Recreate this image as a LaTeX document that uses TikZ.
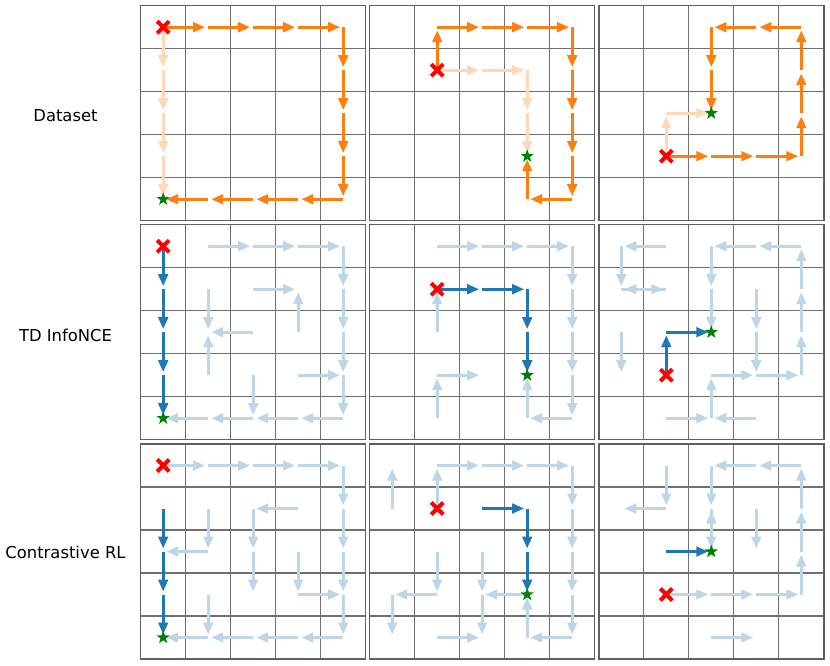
\documentclass[tikz,border=0pt]{standalone}
\usepackage{fontspec}
\setmainfont{DejaVu Sans}
\usetikzlibrary{arrows.meta,shapes.geometric,shapes.misc}
\definecolor{dorange}{HTML}{FF7F0E}
\definecolor{lorange}{HTML}{FFD9B7}
\definecolor{dblue}{HTML}{1F77B4}
\definecolor{lblue}{HTML}{BCD6E8}
\definecolor{xred}{HTML}{FF0000}
\definecolor{sgreen}{HTML}{008000}
\definecolor{gridgray}{HTML}{707070}
\definecolor{bordergray}{HTML}{606060}
\newcommand\arrs[3]{\foreach \f/\t in {#3} {\draw[#1] (p#2-\f) -- (p#2-\t);}}
\newcommand\pmarkers[3]{%
  \node[startmark] (x#1) at (p#1-#2) {};
  \node[goalmark] (g#1) at (p#1-#3) {};}
\begin{document}
\begin{tikzpicture}[x=1pt,y=-1pt,
  arrbase/.style={line width=3.2pt, shorten >=3pt, -{Triangle[length=12pt,width=9.5pt]}},
  dor/.style={arrbase, dorange},
  lor/.style={arrbase, lorange},
  dbl/.style={arrbase, dblue},
  lbl/.style={arrbase, lblue},
  startmark/.style={cross out, draw=xred, line width=4pt, minimum size=8pt, inner sep=0pt},
  goalmark/.style={star, star points=5, star point ratio=2.5, fill=sgreen, minimum size=14pt, inner sep=0pt},
  lab/.style={font=\fontsize{16.4}{19}\selectfont, inner sep=0pt},
  gridline/.style={gridgray, line width=1.1pt},
  frame/.style={bordergray, line width=1.5pt}]
\useasboundingbox (0,0) rectangle (830,665);
\fill[white] (0,0) rectangle (830,665);

% panels
\foreach \pr/\py in {1/5.7, 2/224.7, 3/444.0} {
  \foreach \pc/\px in {1/140.7, 2/369.7, 3/598.8} {
    \foreach \i in {1,...,4} {
      \draw[gridline] (\px+45*\i, \py) -- (\px+45*\i, \py+215);
      \draw[gridline] (\px, \py+43*\i) -- (\px+225, \py+43*\i);
    }
    \draw[frame] (\px,\py) rectangle (\px+225,\py+215);
    \foreach \c in {0,...,4} {
      \foreach \r in {0,...,4} {
        \coordinate (p\pr\pc-\c\r) at (\px+22.5+45*\c, \py+21.5+43*\r);
      }
    }
  }
}

% row labels
\node[lab] (l1) at (65.5,116) {Dataset};
\node[lab] (l2) at (65.5,335) {TD InfoNCE};
\node[lab] (l3) at (65.5,552) {Contrastive RL};

% ---- Dataset ----
\arrs{lor}{11}{00/01,01/02,02/03,03/04}
\arrs{dor}{11}{00/10,10/20,20/30,30/40,40/41,41/42,42/43,43/44,44/34,34/24,24/14,14/04}
\pmarkers{11}{00}{04}

\arrs{lor}{12}{11/21,21/31,31/32,32/33}
\arrs{dor}{12}{11/10,10/20,20/30,30/40,40/41,41/42,42/43,43/44,44/34,34/33}
\pmarkers{12}{11}{33}

\arrs{lor}{13}{13/12,12/22}
\arrs{dor}{13}{13/23,23/33,33/43,43/42,42/41,41/40,40/30,30/20,20/21,21/22}
\pmarkers{13}{13}{22}

% ---- TD InfoNCE ----
\arrs{lbl}{21}{10/20,20/30,30/40,40/41,41/42,42/43,43/44,44/34,34/24,24/14,14/04,21/31,32/31,11/12,22/12,13/12,23/24,33/43}
\arrs{dbl}{21}{00/01,01/02,02/03,03/04}
\pmarkers{21}{00}{04}

\arrs{lbl}{22}{10/20,20/30,30/40,40/41,41/42,42/43,43/44,44/34,34/33,12/11,13/23,14/13}
\arrs{dbl}{22}{11/21,21/31,31/32,32/33}
\pmarkers{22}{11}{33}

\arrs{lbl}{23}{10/00,00/01,01/11,11/01,02/03,40/30,30/20,20/21,21/22,31/32,32/33,23/33,33/43,43/42,42/41,41/40,24/23,14/24,34/24}
\arrs{dbl}{23}{13/12,12/22}
\pmarkers{23}{13}{22}

% ---- Contrastive RL ----
\arrs{lbl}{31}{00/10,10/20,20/30,30/40,40/41,41/42,42/43,43/44,44/34,34/24,24/14,14/04,31/21,21/22,22/23,11/12,12/02,32/33,33/43,13/14}
\arrs{dbl}{31}{01/02,02/03,03/04}
\pmarkers{31}{00}{04}

\arrs{lbl}{32}{01/00,11/10,10/20,20/30,30/40,40/41,41/42,42/43,43/44,44/34,34/33,12/13,13/03,03/04,22/23,23/24,33/23,14/24}
\arrs{dbl}{32}{21/31,31/32,32/33}
\pmarkers{32}{11}{33}

\arrs{lbl}{33}{10/11,11/01,40/30,30/20,20/21,21/22,22/21,31/32,13/23,23/33,33/43,43/42,42/41,41/40,24/34}
\arrs{dbl}{33}{12/22}
\pmarkers{33}{13}{22}
\end{tikzpicture}
\end{document}
